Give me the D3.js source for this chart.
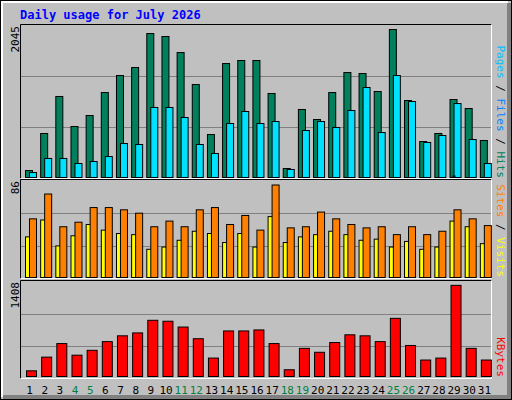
<!DOCTYPE html>
<html><head><meta charset="utf-8">
<script src="https://cdn.jsdelivr.net/npm/d3@7"></script>
<style>body{margin:0;background:#fff}</style></head><body>
<svg id="c" width="512" height="400"></svg>
<script>
const days = d3.range(1,32);
const weekend = [4,5,11,12,18,19,25,26];
const hits = [94,592,1090,686,834,1143,1372,1480,1937,1897,1681,1251,578,1533,1574,1574,1130,121,915,780,1143,1412,1399,1157,1991,1036,484,592,1049,928,498];
const files = [67,256,256,188,215,282,457,444,942,942,807,444,323,726,888,726,753,108,632,753,673,901,1211,605,1372,1022,471,565,995,511,188];
const pages = [0,0,0,0,0,0,0,0,0,0,0,0,0,0,0,0,0,0,0,0,0,0,0,0,0,0,0,0,20,0,0];
const visits = [52,74,45,49,62,62,60,57,45,50,45,60,62,47,55,42,82,44,45,58,52,47,44,45,38,45,38,41,60,52,46];
const sites = [36,51,28,37,47,42,39,38,25,27,33,41,39,31,39,27,54,31,36,38,41,38,33,34,27,32,25,27,50,45,30];
const kbytes = [84,287,488,316,388,517,603,646,833,819,733,560,273,675,675,690,488,100,417,359,503,618,603,517,862,460,244,273,1351,417,244];
const maxTop = 2045, maxMid = 86, maxBot = 1408;

const svg = d3.select("#c");
const F = "'DejaVu Sans Mono', monospace";
// frame
svg.append("rect").attr("x",0.5).attr("y",0.5).attr("width",511).attr("height",399).attr("fill","#c0c0c0").attr("stroke","#000");
svg.append("path").attr("d","M2,397V2H508").attr("fill","none").attr("stroke","#fff").attr("stroke-width",2);
svg.append("path").attr("d","M509,3V397H3").attr("fill","none").attr("stroke","#808080").attr("stroke-width",4);
svg.append("text").attr("x",20).attr("y",19).attr("fill","#0000ff").attr("font-family",F).attr("font-weight","bold").attr("font-size",12).text("Daily usage for July 2026");

const x = d3.scaleBand().domain(days).range([21,491]).paddingInner(0).paddingOuter(0);
const panels = [{t:25,b:178},{t:180,b:278},{t:281,b:378}];
panels.forEach(p=>{
  svg.append("path").attr("d",`M20.5,${p.b+0.5}V${p.t-0.5}H491.5`).attr("fill","none").attr("stroke","#000");
  svg.append("path").attr("d",`M491.5,${p.t-0.5}V${p.b+0.5}H20.5`).attr("fill","none").attr("stroke","#fff");
});
function grid(y){ [1/3,2/3].forEach(f=>{const yy=Math.round(y.range()[0]-(y.range()[0]-y.range()[1])*f)+0.5;
  svg.append("line").attr("x1",21).attr("x2",491).attr("y1",yy).attr("y2",yy).attr("stroke","#808080");});}
function bars(data,y,off,w,col){
  svg.append("g").selectAll("rect").data(data).join("rect")
    .attr("x",(d,i)=>x(days[i])+off+0.5).attr("width",w)
    .attr("y",d=>y(d)+0.5).attr("height",d=>Math.max(0,y(0)-y(d)))
    .attr("fill",col).attr("stroke","#000");
}
const yT = d3.scaleLinear().domain([0,maxTop]).range([177,25]);
const yM = d3.scaleLinear().domain([0,maxMid]).range([277,180]);
const yB = d3.scaleLinear().domain([0,maxBot]).range([376,281]);
grid(d3.scaleLinear().range([178,25])); grid(d3.scaleLinear().range([279,180])); grid(d3.scaleLinear().range([379,281]));
bars(hits,yT,4,7,"#00805c");
bars(files,yT,8,7,"#00e0ff");
bars(pages,yT,7,2,"#0040ff");
bars(sites,yM,4,7,"#ffff00");
bars(visits,yM,8,7,"#ff8000");
bars(kbytes,yB,5,10,"#ff0000");

function vlab(v,yTop){ svg.append("text").attr("transform",`translate(19,${yTop}) rotate(-90)`).attr("text-anchor","end")
  .attr("font-family",F).attr("font-size",11).attr("fill","#000").text(v);}
vlab(maxTop,26); vlab(maxMid,181); vlab(maxBot,282);

function rlab(parts,yTop){ const t=svg.append("text").attr("transform",`translate(497,${yTop}) rotate(90)`).attr("text-anchor","end")
  .attr("font-family",F).attr("font-size",11);
  parts.forEach(p=>t.append("tspan").attr("fill",p[1]).text(p[0])); }
rlab([["Pages","#00c0ff"],[" / ","#000"],["Files","#0080ff"],[" / ","#000"],["Hits","#00805c"]],178);
rlab([["Sites","#ff8000"],[" / ","#000"],["Visits","#ffff00"]],277);
rlab([["KBytes","#ff0000"]],377);

svg.append("g").selectAll("text").data(days).join("text")
  .attr("x",d=>x(d)+x.bandwidth()/2+1).attr("y",394).attr("text-anchor","middle")
  .attr("font-family",F).attr("font-size",11)
  .attr("fill",d=>weekend.includes(d)?"#008040":"#000").text(d=>d);
</script></body></html>
